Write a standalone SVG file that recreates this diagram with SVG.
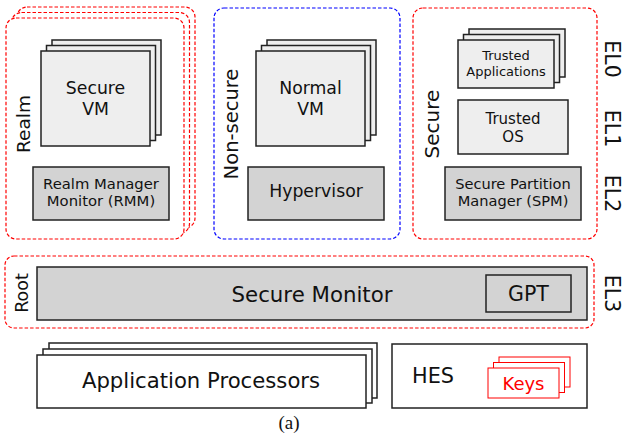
<svg xmlns="http://www.w3.org/2000/svg" width="624" height="436" viewBox="0 0 624 436">
<style>
text{font-family:"DejaVu Sans","Liberation Sans",sans-serif;fill:#111;text-anchor:middle}
.box{stroke:#222;stroke-width:1.5}
.lt{fill:#eeeeee}
.dk{fill:#d3d3d3}
.wh{fill:#ffffff}
.red{fill:#fff;stroke:#ff0000;stroke-width:1.2;stroke-dasharray:3.5,2}
.blue{fill:#fff;stroke:#0000ff;stroke-width:1.2;stroke-dasharray:3.5,2}
.key{fill:#fff;stroke:#ff0000;stroke-width:1}
.vl{font-size:19px}
.el{font-size:20.5px}
</style>
<g id="realm">
<rect class="red" x="17" y="7" width="178" height="221" rx="10"/>
<rect class="red" x="11.5" y="12.5" width="178" height="221" rx="10"/>
<rect class="red" x="6" y="18" width="178" height="221" rx="10"/>
<text class="vl" transform="translate(30,124) rotate(-90)" style="font-size:18.5px">Realm</text>
</g>
<g id="secure-vm">
<rect class="box lt" x="52" y="40" width="109" height="95"/>
<rect class="box lt" x="46.5" y="45.5" width="109" height="95"/>
<rect class="box lt" x="41" y="51" width="109" height="95"/>
<text x="95.5" y="94" style="font-size:17.3px">Secure</text>
<text x="95.5" y="115" style="font-size:17.3px">VM</text>
</g>
<g id="rmm">
<rect class="box dk" x="33" y="167" width="136" height="53"/>
<text x="101" y="188.5" style="font-size:14.8px">Realm Manager</text>
<text x="101" y="206" style="font-size:14.8px">Monitor (RMM)</text>
</g>
<g id="nonsecure">
<rect class="blue" x="214" y="8" width="186" height="231" rx="10"/>
<text class="vl" transform="translate(238,124) rotate(-90)" style="font-size:19.5px">Non-secure</text>
</g>
<g id="normal-vm">
<rect class="box lt" x="267" y="40" width="109" height="95"/>
<rect class="box lt" x="261.5" y="45.5" width="109" height="95"/>
<rect class="box lt" x="256" y="51" width="109" height="95"/>
<text x="310.5" y="94" style="font-size:17.3px">Normal</text>
<text x="310.5" y="115" style="font-size:17.3px">VM</text>
</g>
<g id="hypervisor">
<rect class="box dk" x="248" y="167" width="136" height="53"/>
<text x="316" y="197" style="font-size:17.3px">Hypervisor</text>
</g>
<g id="secure">
<rect class="red" x="413" y="8" width="184" height="231" rx="10"/>
<text class="vl" transform="translate(439,124) rotate(-90)" style="font-size:20px">Secure</text>
</g>
<g id="trusted-apps">
<rect class="box lt" x="469" y="29" width="96" height="48"/>
<rect class="box lt" x="463.5" y="34.5" width="96" height="48"/>
<rect class="box lt" x="458" y="40" width="96" height="48"/>
<text x="506" y="60" style="font-size:13px">Trusted</text>
<text x="506" y="76" style="font-size:13px">Applications</text>
</g>
<g id="trusted-os">
<rect class="box lt" x="458" y="100" width="110" height="54"/>
<text x="513" y="124" style="font-size:15px">Trusted</text>
<text x="513" y="142" style="font-size:15px">OS</text>
</g>
<g id="spm">
<rect class="box dk" x="445" y="167" width="136" height="53"/>
<text x="513" y="188.5" style="font-size:14.6px">Secure Partition</text>
<text x="513" y="206" style="font-size:14.6px">Manager (SPM)</text>
</g>
<g id="el-labels">
<text class="el" transform="translate(605,59) rotate(90)">EL0</text>
<text class="el" transform="translate(605,128.5) rotate(90)">EL1</text>
<text class="el" transform="translate(605,193.5) rotate(90)">EL2</text>
<text class="el" transform="translate(605,293.5) rotate(90)">EL3</text>
</g>
<g id="root">
<rect class="red" x="5" y="256" width="589" height="72" rx="9"/>
<text transform="translate(27.5,293) rotate(-90)" style="font-size:17.5px">Root</text>
</g>
<g id="secure-monitor">
<rect class="box dk" x="37" y="267" width="550" height="53"/>
<text x="312" y="302" style="font-size:21.3px">Secure Monitor</text>
</g>
<g id="gpt">
<rect class="box dk" x="486" y="275" width="85" height="37"/>
<text x="528.5" y="301" style="font-size:20.5px">GPT</text>
</g>
<g id="app-processors">
<rect class="box wh" x="49" y="343" width="328" height="55"/>
<rect class="box wh" x="43" y="349" width="329" height="54"/>
<rect class="box wh" x="37" y="355" width="329" height="53"/>
<text x="201" y="388" style="font-size:21.2px">Application Processors</text>
</g>
<g id="hes">
<rect class="box wh" x="392" y="344" width="195" height="64"/>
<text x="433" y="383" style="font-size:20.8px">HES</text>
</g>
<g id="keys">
<rect class="key" x="499" y="357" width="71" height="30"/>
<rect class="key" x="493.5" y="362.5" width="71" height="30"/>
<rect class="key" x="488" y="368" width="71" height="30"/>
<text x="523.5" y="390" style="font-size:18px;fill:#ff0000">Keys</text>
</g>
<g id="caption">
<text x="289" y="429" style="font-family:'Liberation Serif','Times New Roman',serif;font-size:19px">(a)</text>
</g>
</svg>
